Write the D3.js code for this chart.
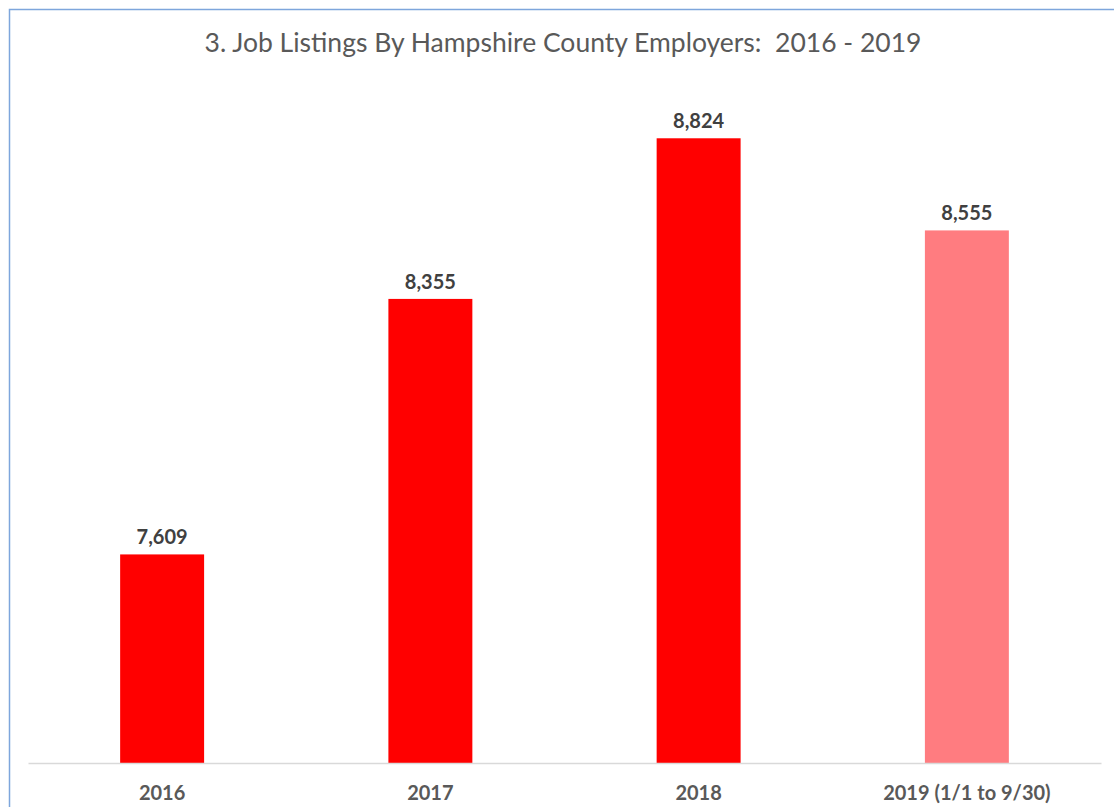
<!DOCTYPE html>
<html lang="en">
<head>
  <meta charset="UTF-8">
  <title>Job Listings</title>
  <script src="https://d3js.org/d3.v7.min.js"></script>
  <style>
    * { margin: 0; padding: 0; box-sizing: border-box; }
    body { background: #fff; font-family: Lato, "Open Sans", sans-serif; }
  </style>
</head>
<body>
  <div id="chart"></div>
  <script>
    const categories = ["2016", "2017", "2018", "2019 (1/1 to 9/30)"];
    const values = [7609, 8355, 8824, 8555];
    const barColors = ["#ff0000", "#ff0000", "#ff0000", "#ff7c80"];
    const yDomain = [7000, 9000];

    const W = 1114, H = 807;
    const margin = {top: 78, right: 13, bottom: 44, left: 28};
    const width = W - margin.left - margin.right,
          height = H - margin.top - margin.bottom;

    const root = d3.select("#chart").append("svg")
      .attr("width", W).attr("height", H);

    // chart border (only top/left visible in frame)
    root.append("rect")
      .attr("x", 9.5).attr("y", 9.5)
      .attr("width", W + 20).attr("height", H + 20)
      .attr("fill", "none")
      .attr("stroke", "#7ea6dc")
      .attr("stroke-width", 1.5);

    root.append("text")
      .attr("x", 563)
      .attr("y", 52)
      .attr("text-anchor", "middle")
      .style("font-size", "26.5px")
      .style("white-space", "pre")
      .style("fill", "#595959")
      .text("3. Job Listings By Hampshire County Employers:  2016 - 2019");

    const svg = root.append("g")
      .attr("transform", `translate(${margin.left},${margin.top})`);

    const x = d3.scaleBand()
      .domain(categories)
      .range([0, width])
      .paddingInner(0.687)
      .paddingOuter(0.3435);

    const y = d3.scaleLinear()
      .domain(yDomain)
      .range([height, 0]);

    svg.selectAll(".bar")
      .data(categories)
      .enter()
      .append("rect")
      .attr("class", "bar")
      .attr("x", d => x(d))
      .attr("y", (d, i) => y(values[i]))
      .attr("width", x.bandwidth())
      .attr("height", (d, i) => height - y(values[i]))
      .attr("fill", (d, i) => barColors[i]);

    svg.selectAll(".label")
      .data(categories)
      .enter()
      .append("text")
      .attr("x", d => x(d) + x.bandwidth() / 2)
      .attr("y", (d, i) => y(values[i]) - 10)
      .attr("text-anchor", "middle")
      .style("font-size", "20px")
      .style("font-weight", "bold")
      .style("fill", "#404040")
      .text((d, i) => d3.format(",")(values[i]));

    const xAxis = svg.append("g")
      .attr("transform", `translate(0,${height})`)
      .call(d3.axisBottom(x).tickSize(0).tickPadding(23));
    xAxis.select(".domain").attr("stroke", "#d9d9d9").attr("stroke-width", 1.5);
    xAxis.selectAll("text")
      .style("font-family", "Lato, 'Open Sans', sans-serif")
      .style("font-size", "20px")
      .style("font-weight", "bold")
      .style("fill", "#595959");
  </script>
</body>
</html>
